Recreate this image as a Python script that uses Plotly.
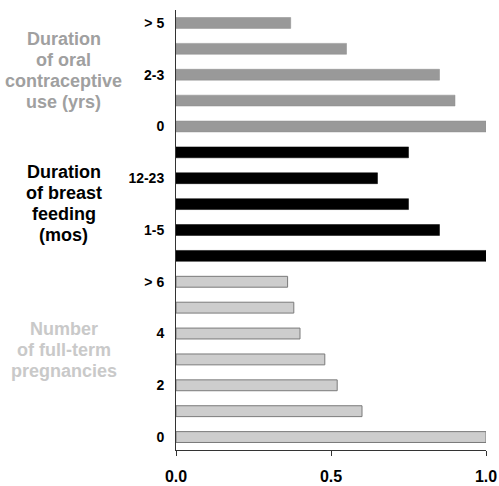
import plotly.graph_objects as go

# Data, top to bottom
oc_labels = ["> 5", "", "2-3", "", "0"]
oc_values = [0.37, 0.55, 0.85, 0.90, 1.0]
bf_labels = ["", "12-23", "", "1-5", ""]
bf_values = [0.75, 0.65, 0.75, 0.85, 1.0]
preg_labels = ["> 6", "", "4", "", "2", "", "0"]
preg_values = [0.36, 0.38, 0.40, 0.48, 0.52, 0.60, 1.0]

group_titles = [
    ["Duration", "of oral", "contraceptive", "use (yrs)"],
    ["Duration", "of breast", "feeding", "(mos)"],
    ["Number", "of full-term", "pregnancies"],
]
x_ticks = [0.0, 0.5, 1.0]
x_ticktext = ["0.0", "0.5", "1.0"]

FONT = "Liberation Sans, Arial, sans-serif"

groups = [
    (oc_labels, oc_values, dict(color="#999999", line=dict(color="#8c8c8c", width=0.5)), "#a0a0a0"),
    (bf_labels, bf_values, dict(color="#000000", line=dict(color="#000000", width=0.5)), "#000000"),
    (preg_labels, preg_values, dict(color="#cdcdcd", line=dict(color="#7a7a7a", width=1)), "#c9c9c9"),
]

fig = go.Figure()
all_labels = []
start = 0
annots = []
title_offsets = [-0.15, -0.03, -0.35]
LINE = 0.815  # line spacing in category units
for gi, (labels, values, marker, tcolor) in enumerate(groups):
    pos = list(range(start, start + len(values)))
    fig.add_trace(go.Bar(
        x=values, y=pos, orientation="h", marker=marker, width=0.42,
        showlegend=False, hoverinfo="skip",
    ))
    all_labels += labels
    center = start + (len(values) - 1) / 2 + title_offsets[gi]
    lines = group_titles[gi]
    for li, line in enumerate(lines):
        yy = center + (li - (len(lines) - 1) / 2) * LINE
        annots.append(dict(
            x=-0.362, xref="paper", y=yy, yref="y", text="<b>" + line + "</b>",
            showarrow=False, xanchor="center", yanchor="middle", align="center",
            font=dict(family=FONT, size=18, color=tcolor),
        ))
    start += len(values)

n = len(all_labels)
lab_vals = [i for i, t in enumerate(all_labels) if t]
lab_text = ["<b>" + t + "</b>" for t in all_labels if t]
bounds = [i - 0.5 for i in range(n + 1)]
yrange = [n - 0.5, -0.5]

AX = "#333333"
fig.update_layout(
    width=499, height=486,
    margin=dict(l=176, r=13, t=10, b=36),
    paper_bgcolor="white", plot_bgcolor="white",
    font=dict(family=FONT, color="black"),
    annotations=annots,
    xaxis=dict(
        range=[0, 1.0], tickvals=x_ticks, ticktext=["<b>" + t + "</b>" for t in x_ticktext],
        showline=True, linecolor=AX, linewidth=1,
        ticks="outside", ticklen=5, tickcolor=AX,
        showgrid=False, zeroline=False, automargin=False,
        tickfont=dict(family=FONT, size=16, color="black"),
        ticklabelstandoff=7, ticklabeloverflow="allow",
    ),
    xaxis2=dict(
        overlaying="x", anchor="y", side="bottom", range=[0, 1.0], tickvals=x_ticks,
        ticks="inside", ticklen=5, tickcolor=AX, showticklabels=False,
        showline=False, showgrid=False, zeroline=False, automargin=False,
    ),
    yaxis=dict(
        range=yrange, tickvals=lab_vals, ticktext=lab_text,
        showline=True, linecolor=AX, linewidth=1,
        ticks="", showgrid=False, zeroline=False, automargin=False,
        tickfont=dict(family=FONT, size=14, color="black"),
        ticklabelstandoff=8,
    ),
    yaxis2=dict(
        overlaying="y", anchor="x", side="left", range=yrange, tickvals=bounds,
        ticks="outside", ticklen=3, tickcolor=AX, showticklabels=False,
        showline=False, showgrid=False, zeroline=False, automargin=False,
    ),
    yaxis3=dict(
        overlaying="y", anchor="x", side="left", range=yrange, tickvals=bounds,
        ticks="inside", ticklen=3, tickcolor=AX, showticklabels=False,
        showline=False, showgrid=False, zeroline=False, automargin=False,
    ),
)

fig.write_html(
    "out.html",
    config={"displayModeBar": False},
    post_script="document.body.style.margin='0';document.body.style.overflow='hidden';",
)
